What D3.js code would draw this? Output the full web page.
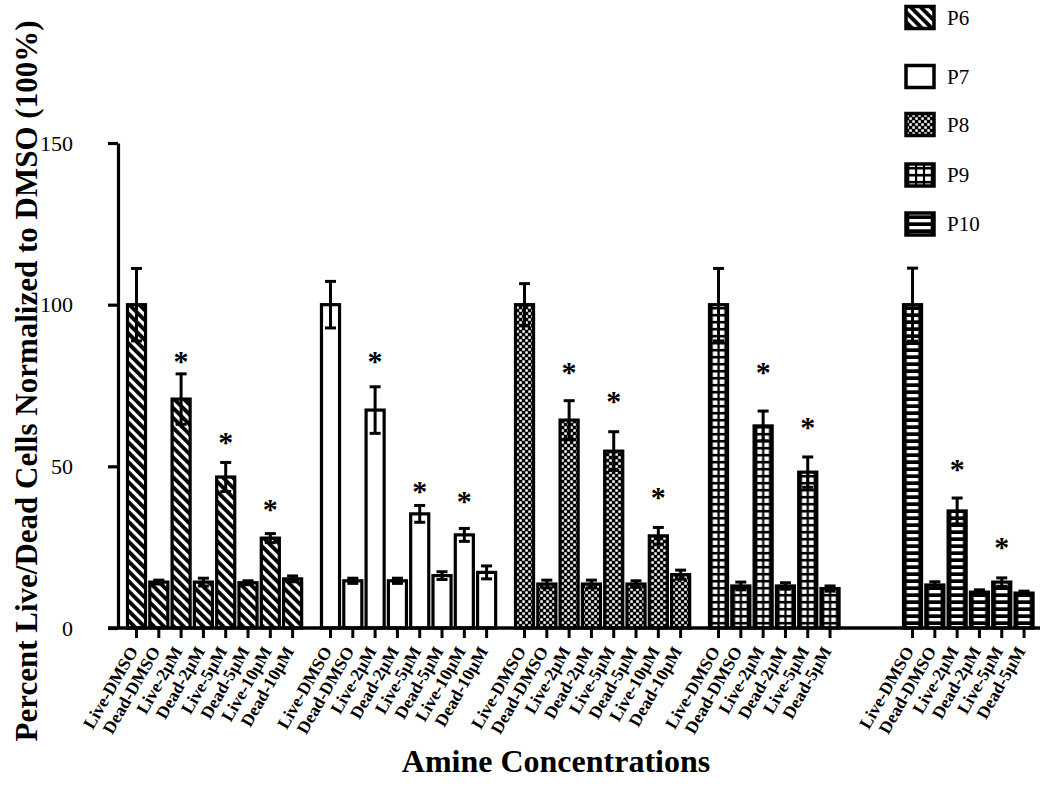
<!DOCTYPE html>
<html>
<head>
<meta charset="utf-8">
<script src="https://cdn.jsdelivr.net/npm/d3@7/dist/d3.min.js"></script>
<style>
  html, body { margin: 0; padding: 0; background: #fff; }
  svg { display: block; }
  text { font-family: "Liberation Serif", "Times New Roman", serif; fill: #000; }
</style>
</head>
<body>
<svg id="chart" width="1050" height="793"></svg>
<script>
// ---------------- data ----------------
const groups = ["P6", "P7", "P8", "P9", "P10"];
const conditions = ["Live-DMSO", "Dead-DMSO", "Live-2µM", "Dead-2µM", "Live-5µM", "Dead-5µM", "Live-10µM", "Dead-10µM"];
const yTicks = [0, 50, 100, 150];

const p6Values = [100, 14.2, 70.8, 14.2, 46.7, 14.0, 27.8, 15.2];
const p6Errors = [11.2, 0.6, 7.8, 1.2, 4.5, 0.6, 1.4, 0.9];
const p7Values = [100, 14.6, 67.4, 14.6, 35.3, 16.2, 28.8, 17.2];
const p7Errors = [7.2, 0.8, 7.2, 0.8, 2.6, 1.2, 2.0, 2.0];
const p8Values = [100, 13.6, 64.3, 13.6, 54.7, 13.6, 28.5, 16.5];
const p8Errors = [6.5, 1.2, 6.0, 1.2, 6.0, 1.0, 2.6, 1.4];
const p9Values = [100, 13.0, 62.5, 13.0, 48.2, 12.2];
const p9Errors = [11.2, 1.2, 4.6, 1.0, 4.7, 0.8];
const p10Values = [100, 13.3, 36.2, 11.1, 14.2, 10.8];
const p10Errors = [11.3, 1.0, 4.0, 0.7, 1.3, 0.6];

// significance markers (*): level in data units, null = none
const p6Stars = [null, null, 83.8, null, 58.8, null, 38.0, null];
const p7Stars = [null, null, 83.8, null, 43.6, null, 40.5, null];
const p8Stars = [null, null, 80.4, null, 71.4, null, 41.8, null];
const p9Stars = [null, null, 80.4, null, 63.4, null];
const p10Stars = [null, null, 50.4, null, 26.3, null];

const seriesValues = [p6Values, p7Values, p8Values, p9Values, p10Values];
const seriesErrors = [p6Errors, p7Errors, p8Errors, p9Errors, p10Errors];
const seriesStars = [p6Stars, p7Stars, p8Stars, p9Stars, p10Stars];
const fills = ["diag", "none", "check", "grid", "hstripe"];

const rows = [];
groups.forEach((g, gi) => {
  seriesValues[gi].forEach((v, ci) => {
    rows.push({ group: g, gi, cond: conditions[ci], value: v, err: seriesErrors[gi][ci], star: seriesStars[gi][ci], fill: fills[gi] });
  });
});

// ---------------- scales ----------------
const svg = d3.select("#chart");
const defs = svg.append("defs");

const y = d3.scaleLinear().domain([0, 150]).range([628, 143]);
const x0 = d3.scaleBand().domain(groups).range([125.35, 1079.8]).paddingInner(0.0804).paddingOuter(0);
const x1 = d3.scaleBand().domain(conditions).range([0, x0.bandwidth()]).paddingInner(0.19).paddingOuter(0.095);

// ---------------- patterns ----------------
const diag = defs.append("pattern").attr("id", "pat-diag").attr("patternUnits", "userSpaceOnUse")
  .attr("width", 7).attr("height", 7).attr("patternTransform", "rotate(-45)");
diag.append("rect").attr("width", 7).attr("height", 7).attr("fill", "#fff");
diag.append("rect").attr("width", 3.9).attr("height", 7).attr("fill", "#000");

const chk = defs.append("pattern").attr("id", "pat-check").attr("patternUnits", "userSpaceOnUse")
  .attr("width", 6).attr("height", 6);
chk.append("rect").attr("width", 6).attr("height", 6).attr("fill", "#000");
chk.append("rect").attr("x", 0.3).attr("y", 0.3).attr("width", 2.5).attr("height", 2.5).attr("fill", "#fff");
chk.append("rect").attr("x", 3.3).attr("y", 3.3).attr("width", 2.5).attr("height", 2.5).attr("fill", "#fff");

let patCount = 0;
function fillFor(type, bx, bw) {
  if (type === "none") return "#fff";
  if (type === "diag") return "url(#pat-diag)";
  if (type === "check") return "url(#pat-check)";
  const id = "pat-" + type + "-" + (patCount++);
  const p = defs.append("pattern").attr("id", id).attr("patternUnits", "userSpaceOnUse")
    .attr("x", bx).attr("y", 0).attr("width", bw).attr("height", 7);
  p.append("rect").attr("width", bw).attr("height", 7).attr("fill", "#000");
  if (type === "grid") {
    const ncol = bw > 22 ? 3 : 2;
    const inner = bw - 6.5;
    const cw = (inner - (ncol - 1) * 2.2) / ncol;
    for (let k = 0; k < ncol; k++) {
      p.append("rect").attr("x", 3.3 + k * (cw + 2.2)).attr("y", 1.5).attr("width", cw).attr("height", 4.4).attr("fill", "#fff");
    }
  } else if (type === "hstripe") {
    p.append("rect").attr("x", 3.3).attr("y", 2).attr("width", bw - 6.6).attr("height", 3.3).attr("fill", "#fff");
  }
  return "url(#" + id + ")";
}

// ---------------- bars ----------------
const barG = svg.append("g");
rows.forEach(d => {
  const bx = x0(d.group) + x1(d.cond);
  const bw = x1.bandwidth();
  d.cx = bx + bw / 2;
  barG.append("rect")
    .attr("x", bx).attr("y", y(d.value))
    .attr("width", bw).attr("height", y(0) - y(d.value))
    .attr("fill", fillFor(d.fill, bx, bw))
    .attr("stroke", "#000").attr("stroke-width", 3.2);
});

// error bars
const errG = svg.append("g").attr("stroke", "#000").attr("stroke-width", 3);
rows.forEach(d => {
  const top = y(d.value + d.err), bot = y(d.value - d.err);
  errG.append("line").attr("x1", d.cx).attr("x2", d.cx).attr("y1", top).attr("y2", bot);
  errG.append("line").attr("x1", d.cx - 5.5).attr("x2", d.cx + 5.5).attr("y1", top).attr("y2", top);
  errG.append("line").attr("x1", d.cx - 5.5).attr("x2", d.cx + 5.5).attr("y1", bot).attr("y2", bot);
});

// significance stars
svg.append("g").selectAll("text").data(rows.filter(d => d.star != null)).join("text")
  .attr("x", d => d.cx).attr("y", d => y(d.star) + 14)
  .attr("text-anchor", "middle").attr("font-size", 30).attr("font-weight", "bold")
  .text("*");

// ---------------- axes ----------------
const yAxis = svg.append("g").attr("transform", "translate(118,0)")
  .call(d3.axisLeft(y).tickValues(yTicks).tickSize(10).tickSizeOuter(0).tickPadding(35));
yAxis.select(".domain").attr("stroke-width", 3.2).attr("stroke", "#000");
yAxis.selectAll(".tick line").attr("stroke-width", 3.2).attr("stroke", "#000");
yAxis.selectAll(".tick text").attr("font-family", "Liberation Serif").attr("font-size", 22).attr("fill", "#000");

svg.append("line").attr("x1", 108).attr("x2", 1040).attr("y1", y(0)).attr("y2", y(0))
  .attr("stroke", "#000").attr("stroke-width", 3.4);

const xt = svg.append("g");
rows.forEach(d => {
  xt.append("line").attr("x1", d.cx).attr("x2", d.cx).attr("y1", y(0)).attr("y2", y(0) + 10)
    .attr("stroke", "#000").attr("stroke-width", 3);
  xt.append("text")
    .attr("transform", `translate(${d.cx + 2},651) rotate(-60)`)
    .attr("text-anchor", "end").attr("font-size", 17.5).attr("font-weight", "bold")
    .text(d.cond);
});

// axis titles
svg.append("text").attr("transform", "translate(37,381) rotate(-90)")
  .attr("text-anchor", "middle").attr("font-size", 31).attr("font-weight", "bold")
  .text("Percent Live/Dead Cells Normalized to DMSO (100%)");
svg.append("text").attr("x", 556).attr("y", 772)
  .attr("text-anchor", "middle").attr("font-size", 32).attr("font-weight", "bold")
  .text("Amine Concentrations");

// ---------------- legend ----------------
const legendY = [17.5, 76.5, 124.5, 175, 224];
const lg = svg.append("g");
groups.forEach((g, i) => {
  const bx = 906, bw = 28, bh = 22;
  lg.append("rect").attr("x", bx).attr("y", legendY[i] - bh / 2).attr("width", bw).attr("height", bh)
    .attr("fill", fillFor(fills[i], bx, bw)).attr("stroke", "#000").attr("stroke-width", 3.5);
  lg.append("text").attr("x", 947).attr("y", legendY[i]).attr("dy", "0.35em")
    .attr("font-size", 21).text(g);
});
</script>
</body>
</html>
